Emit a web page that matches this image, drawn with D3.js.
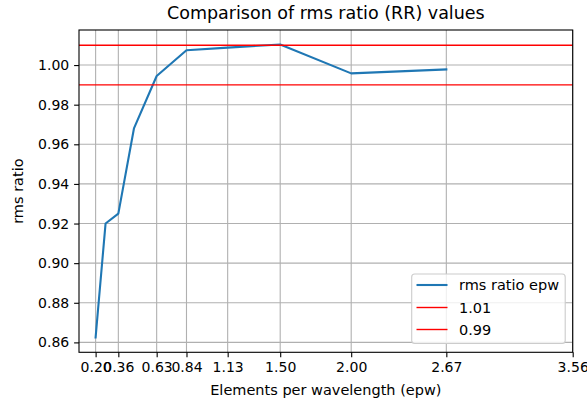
<!DOCTYPE html>
<html>
<head>
<meta charset="utf-8">
<script src="https://cdn.jsdelivr.net/npm/d3@7"></script>
<style>
  html, body { margin: 0; padding: 0; background: #fff; }
  svg { display: block; font-family: "DejaVu Sans", sans-serif; }
</style>
</head>
<body>
<svg id="chart" width="587" height="403"></svg>
<script>
// Elements per wavelength sampled in the study
const epw = [0.20, 0.27, 0.36, 0.47, 0.63, 0.84, 1.13, 1.50, 2.00, 2.67];
// rms ratio measured at each epw
const rmsRatio = [0.8625, 0.920, 0.925, 0.968, 0.9945, 1.0075, 1.0088, 1.0104, 0.9958, 0.9978];
// Reference bands
const refLevels = [1.01, 0.99];
const refLabels = ["1.01", "0.99"];
// Axis ticks
const xTicks = [0.20, 0.36, 0.63, 0.84, 1.13, 1.50, 2.00, 2.67, 3.56];
const yTicks = [0.86, 0.88, 0.90, 0.92, 0.94, 0.96, 0.98, 1.00];
const xDomain = [0.083, 3.56];
const yDomain = [0.855, 1.0177];

const svg = d3.select("#chart");
const plotL = 79, plotR = 572.7, plotT = 30, plotB = 352.3;

const x = d3.scaleLinear().domain(xDomain).range([plotL, plotR]);
const y = d3.scaleLinear().domain(yDomain).range([plotB, plotT]);

// Grid
const grid = svg.append("g");
grid.selectAll("line.gx").data(xTicks).join("line")
  .attr("x1", d => x(d)).attr("x2", d => x(d))
  .attr("y1", plotT).attr("y2", plotB)
  .attr("stroke", "#b0b0b0").attr("stroke-width", 1.1);
grid.selectAll("line.gy").data(yTicks).join("line")
  .attr("x1", plotL).attr("x2", plotR)
  .attr("y1", d => y(d)).attr("y2", d => y(d))
  .attr("stroke", "#b0b0b0").attr("stroke-width", 1.1);

// rms ratio curve
const line = d3.line().x((d, i) => x(epw[i])).y(d => y(d));
svg.append("path")
  .datum(rmsRatio)
  .attr("d", line)
  .attr("fill", "none")
  .attr("stroke", "#1f77b4")
  .attr("stroke-width", 2.1)
  .attr("stroke-linejoin", "round")
  .attr("stroke-linecap", "square");

// Horizontal reference lines
svg.selectAll("line.ref").data(refLevels).join("line")
  .attr("x1", plotL).attr("x2", plotR)
  .attr("y1", d => y(d)).attr("y2", d => y(d))
  .attr("stroke", "#ff0000").attr("stroke-width", 1.4);

// Axes
const xAxis = d3.axisBottom(x).tickValues(xTicks).tickFormat(d3.format(".2f"))
  .tickSizeInner(4.9).tickSizeOuter(0).tickPadding(4.9);
const yAxis = d3.axisLeft(y).tickValues(yTicks).tickFormat(d3.format(".2f"))
  .tickSizeInner(4.9).tickSizeOuter(0).tickPadding(4.9);

const gx = svg.append("g").attr("transform", `translate(0,${plotB})`).call(xAxis);
const gy = svg.append("g").attr("transform", `translate(${plotL},0)`).call(yAxis);
[gx, gy].forEach(g => {
  g.select(".domain").remove();
  g.selectAll(".tick line").attr("stroke", "#000").attr("stroke-width", 1.1);
  g.selectAll(".tick text").attr("fill", "#000")
    .style("font-family", "DejaVu Sans").style("font-size", "14px");
});

// Frame
svg.append("rect")
  .attr("x", plotL).attr("y", plotT)
  .attr("width", plotR - plotL).attr("height", plotB - plotT)
  .attr("fill", "none").attr("stroke", "#000").attr("stroke-width", 1.1);

// Labels
svg.append("text")
  .attr("x", (plotL + plotR) / 2).attr("y", 19)
  .attr("text-anchor", "middle")
  .style("font-size", "17.5px")
  .text("Comparison of rms ratio (RR) values");
svg.append("text")
  .attr("x", (plotL + plotR) / 2).attr("y", 395)
  .attr("text-anchor", "middle")
  .style("font-size", "14.5px")
  .text("Elements per wavelength (epw)");
svg.append("text")
  .attr("transform", `translate(23,${(plotT + plotB) / 2}) rotate(-90)`)
  .attr("text-anchor", "middle")
  .style("font-size", "14.5px")
  .text("rms ratio");

// Legend
const legendItems = [
  { label: "rms ratio epw", color: "#1f77b4", width: 2.1 },
  { label: refLabels[0], color: "#ff0000", width: 1.4 },
  { label: refLabels[1], color: "#ff0000", width: 1.4 }
];
const lg = svg.append("g");
lg.append("rect")
  .attr("x", 411.7).attr("y", 274).attr("width", 153.5).attr("height", 69.5)
  .attr("rx", 3).attr("ry", 3)
  .attr("fill", "#fff").attr("fill-opacity", 0.8)
  .attr("stroke", "#cccccc").attr("stroke-width", 1.1);
const rowY = [285, 307.5, 329.5];
legendItems.forEach((it, i) => {
  lg.append("line")
    .attr("x1", 416.5).attr("x2", 447.5)
    .attr("y1", rowY[i]).attr("y2", rowY[i])
    .attr("stroke", it.color).attr("stroke-width", it.width);
  lg.append("text")
    .attr("x", 459).attr("y", rowY[i])
    .attr("dy", "0.35em")
    .style("font-size", "14.5px")
    .text(it.label);
});
</script>
</body>
</html>
